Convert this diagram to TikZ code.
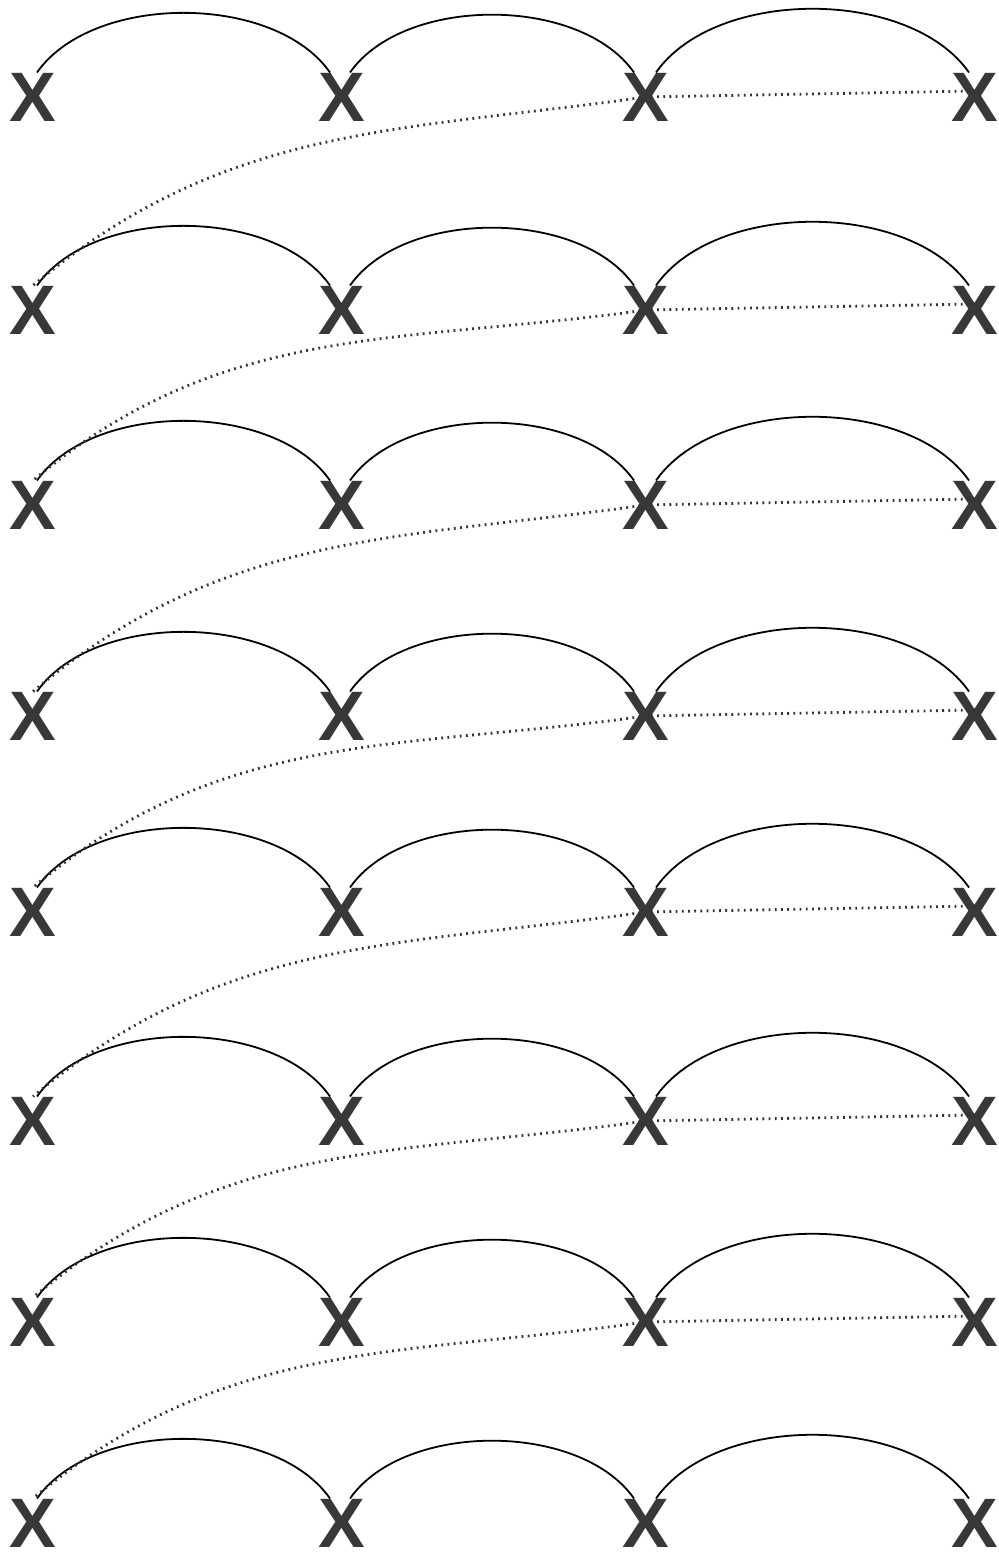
\documentclass[tikz,border=0pt]{standalone}
\usepackage{fontspec}
\newfontfamily\xfont{Liberation Sans}
\usepackage{xcolor}
\usetikzlibrary{positioning, arrows}

\begin{document}
\begin{tikzpicture}[x=0.5pt, y=0.5pt,
    xmark/.style={inner sep=0pt, text=black!78, font=\xfont\bfseries\fontsize{35}{35}\selectfont},
    hop/.style={black, line width=0.9pt, out=55, in=125, looseness=0.85},
    jump/.style={black!80, line width=1.4pt, dash pattern=on 0.9pt off 2.2pt}]
  \useasboundingbox (0,0) rectangle (999,1560);
  \foreach \r/\y in {1/1463, 2/1250, 3/1055, 4/844, 5/648, 6/439, 7/238, 8/37} {
    \draw
      (33,\y) node[xmark] (x\r-1){X}
      (342,\y) node[xmark] (x\r-2){X}
      (646,\y) node[xmark] (x\r-3){X}
      (975,\y) node[xmark] (x\r-4){X};
  }
  \foreach \r in {1,...,8} {
    \draw[hop] ([xshift=2pt]x\r-1.north) to ([xshift=-6pt]x\r-2.north);
    \draw[hop] ([xshift=4pt]x\r-2.north) to ([xshift=-6pt]x\r-3.north);
    \draw[hop] ([xshift=5pt]x\r-3.north) to ([xshift=-3pt]x\r-4.north);
  }
  \foreach \r/\n in {1/2, 2/3, 3/4, 4/5, 5/6, 6/7, 7/8} {
    \draw[jump] ([yshift=3pt]x\r-4.center) -- (x\r-3.center)
      to[out=188, in=40] (x\n-1.north);
  }
\end{tikzpicture}
\end{document}
